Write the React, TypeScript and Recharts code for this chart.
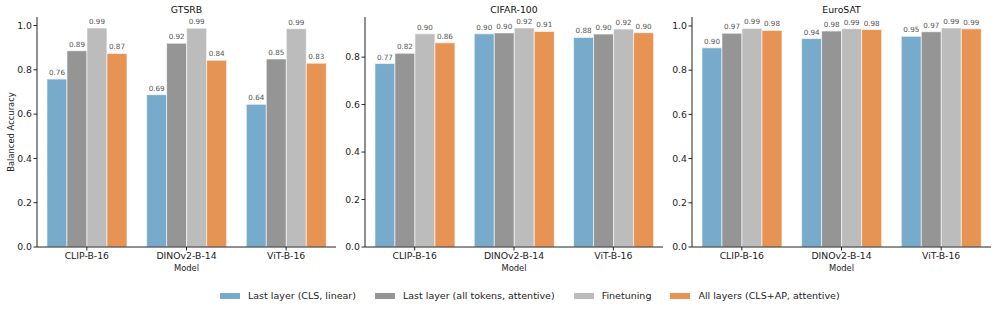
import React from 'react'
import { BarChart, Bar, XAxis, YAxis, LabelList } from 'recharts'

// ── Data ─────────────────────────────────────────────────────────────
const models = ['CLIP-B-16', 'DINOv2-B-14', 'ViT-B-16']

const gtsrbCls = [0.758, 0.688, 0.644]
const gtsrbTokens = [0.886, 0.92, 0.849]
const gtsrbFinetune = [0.989, 0.988, 0.986]
const gtsrbAllLayers = [0.874, 0.843, 0.83]

const cifarCls = [0.773, 0.898, 0.883]
const cifarTokens = [0.816, 0.902, 0.897]
const cifarFinetune = [0.898, 0.923, 0.918]
const cifarAllLayers = [0.86, 0.908, 0.903]

const eurosatCls = [0.901, 0.943, 0.953]
const eurosatTokens = [0.967, 0.977, 0.974]
const eurosatFinetune = [0.989, 0.988, 0.991]
const eurosatAllLayers = [0.98, 0.984, 0.987]

const gtsrbTicks = [0, 0.2, 0.4, 0.6, 0.8, 1.0]
const cifarTicks = [0, 0.2, 0.4, 0.6, 0.8]
const eurosatTicks = [0, 0.2, 0.4, 0.6, 0.8, 1.0]

// ── Series styling ───────────────────────────────────────────────────
const SERIES = [
  { key: 'cls', label: 'Last layer (CLS, linear)', color: '#78abcb' },
  { key: 'tokens', label: 'Last layer (all tokens, attentive)', color: '#959595' },
  { key: 'finetune', label: 'Finetuning', color: '#bcbcbc' },
  { key: 'all', label: 'All layers (CLS+AP, attentive)', color: '#e69353' },
]

const FONT = '"DejaVu Sans", Verdana, sans-serif'
const CHART_H = 280
const PLOT_TOP = 17
const PLOT_BOTTOM = 247
const YAXIS_W = 37

function buildRows(cls: number[], tokens: number[], finetune: number[], all: number[]) {
  return models.map((model, i) => ({
    model,
    cls: cls[i],
    tokens: tokens[i],
    finetune: finetune[i],
    all: all[i],
  }))
}

const PANELS = [
  {
    title: 'GTSRB',
    rows: buildRows(gtsrbCls, gtsrbTokens, gtsrbFinetune, gtsrbAllLayers),
    ticks: gtsrbTicks,
    yMax: 1.0385,
    left: 0,
    width: 336,
    showYLabel: true,
  },
  {
    title: 'CIFAR-100',
    rows: buildRows(cifarCls, cifarTokens, cifarFinetune, cifarAllLayers),
    ticks: cifarTicks,
    yMax: 0.969,
    left: 328,
    width: 335,
    showYLabel: false,
  },
  {
    title: 'EuroSAT',
    rows: buildRows(eurosatCls, eurosatTokens, eurosatFinetune, eurosatAllLayers),
    ticks: eurosatTicks,
    yMax: 1.0406,
    left: 655,
    width: 336,
    showYLabel: false,
  },
]

const tickStyle = { fill: '#222', fontSize: 9.3, fontFamily: FONT }

function YLabel({ viewBox }: any) {
  const x = viewBox.x + 13.5
  const y = viewBox.y + viewBox.height / 2
  return (
    <text
      x={x}
      y={y}
      transform={`rotate(-90, ${x}, ${y})`}
      textAnchor="middle"
      fontSize={8.4}
      fontFamily={FONT}
      fill="#222"
    >
      Balanced Accuracy
    </text>
  )
}

function Panel({ panel }: { panel: (typeof PANELS)[number] }) {
  const plotLeft = panel.left + YAXIS_W
  const plotW = panel.width - YAXIS_W
  return (
    <>
      <div
        style={{
          position: 'absolute',
          left: plotLeft,
          top: 4,
          width: plotW,
          textAlign: 'center',
          fontSize: 9.3,
          lineHeight: '12px',
          fontFamily: FONT,
          color: '#111',
        }}
      >
        {panel.title}
      </div>
      <div style={{ position: 'absolute', left: panel.left, top: 0 }}>
        <BarChart
          width={panel.width}
          height={CHART_H}
          data={panel.rows}
          margin={{ top: PLOT_TOP, right: 0, bottom: 0, left: 0 }}
          barCategoryGap="10%"
          barGap={0}
        >
          <XAxis
            dataKey="model"
            height={CHART_H - PLOT_BOTTOM}
            tick={tickStyle}
            tickSize={3.5}
            tickMargin={2}
            axisLine={{ stroke: '#222', strokeWidth: 1 }}
            tickLine={{ stroke: '#222' }}
            interval={0}
            label={{
              value: 'Model',
              position: 'insideBottom',
              offset: 9,
              fill: '#222',
              fontSize: 8.4,
              fontFamily: FONT,
            }}
          />
          <YAxis
            width={YAXIS_W}
            type="number"
            domain={[0, panel.yMax]}
            ticks={panel.ticks}
            tickFormatter={(v: number) => v.toFixed(1)}
            tick={tickStyle}
            tickSize={3.5}
            tickMargin={1.5}
            axisLine={{ stroke: '#222', strokeWidth: 1 }}
            tickLine={{ stroke: '#222' }}
            label={panel.showYLabel ? { content: YLabel } : undefined}
          />
          {SERIES.map((s) => (
            <Bar
              key={s.key}
              dataKey={s.key}
              name={s.label}
              fill={s.color}
              stroke="#ffffff"
              strokeWidth={0.6}
              isAnimationActive={false}
            >
              <LabelList
                dataKey={s.key}
                position="top"
                offset={4}
                formatter={(v: any) => Number(v).toFixed(2)}
                style={{ fill: '#555', fontSize: 7.2, fontFamily: FONT }}
              />
            </Bar>
          ))}
        </BarChart>
      </div>
    </>
  )
}

function FigureLegend() {
  return (
    <div
      style={{
        position: 'absolute',
        left: 220,
        top: 290,
        display: 'flex',
        alignItems: 'center',
        gap: 19,
        fontFamily: FONT,
        fontSize: 9.5,
        color: '#222',
        lineHeight: '12px',
        whiteSpace: 'nowrap',
      }}
    >
      {SERIES.map((s) => (
        <div key={s.key} style={{ display: 'flex', alignItems: 'center' }}>
          <span
            style={{
              display: 'inline-block',
              width: 20,
              height: 6,
              background: s.color,
              marginRight: 8,
            }}
          />
          <span>{s.label}</span>
        </div>
      ))}
    </div>
  )
}

export default function App() {
  return (
    <div
      style={{
        position: 'absolute',
        left: 0,
        top: 0,
        width: 996,
        height: 310,
        background: '#fff',
        overflow: 'hidden',
      }}
    >
      {PANELS.map((p) => (
        <Panel key={p.title} panel={p} />
      ))}
      <FigureLegend />
    </div>
  )
}
